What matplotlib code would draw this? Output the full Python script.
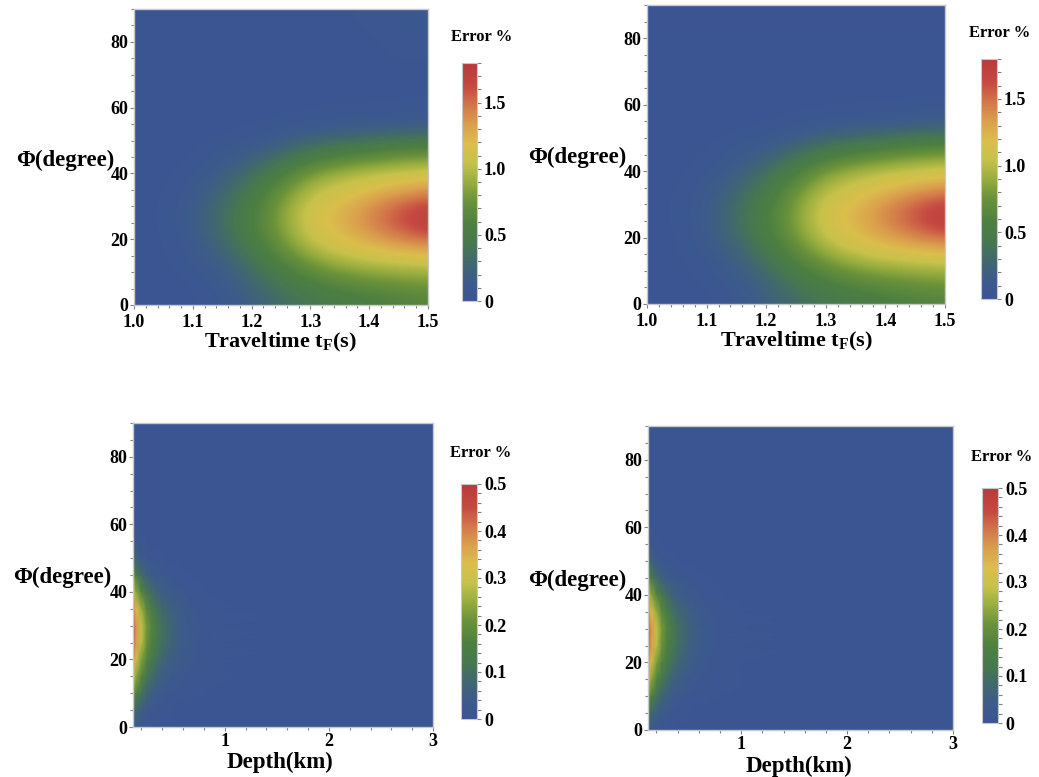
import numpy as np
import matplotlib
matplotlib.use("Agg")
import matplotlib.pyplot as plt
from matplotlib.colors import LinearSegmentedColormap
from matplotlib.ticker import MultipleLocator, FixedLocator, FixedFormatter

plt.rcParams['font.family'] = ['Liberation Serif', 'DejaVu Serif']
plt.rcParams['font.weight'] = 'bold'
plt.rcParams['mathtext.fontset'] = 'custom'
plt.rcParams['mathtext.rm'] = 'Liberation Serif:bold'
plt.rcParams['mathtext.it'] = 'Liberation Serif:bold'
plt.rcParams['mathtext.bf'] = 'Liberation Serif:bold'

# ---------------- data ----------------
tf_values = [1.00, 1.05, 1.10, 1.15, 1.20, 1.25, 1.30, 1.35, 1.40, 1.45, 1.50]
phi_values = [0, 5, 10, 15, 20, 25, 30, 35, 40, 45, 50, 55, 60, 65, 70, 75, 80, 85, 90]

# error % vs traveltime (columns) and phi (rows 0..60)
err_tf_core = [
    [0, 0.00, 0.01, 0.06, 0.18, 0.32, 0.42, 0.48, 0.53, 0.58, 0.62],
    [0, 0.01, 0.02, 0.10, 0.24, 0.40, 0.52, 0.60, 0.66, 0.70, 0.74],
    [0, 0.01, 0.04, 0.15, 0.32, 0.52, 0.68, 0.80, 0.86, 0.90, 0.93],
    [0, 0.02, 0.08, 0.22, 0.42, 0.66, 0.88, 1.02, 1.10, 1.15, 1.18],
    [0, 0.02, 0.12, 0.30, 0.52, 0.78, 1.05, 1.18, 1.30, 1.42, 1.52],
    [0, 0.03, 0.14, 0.34, 0.56, 0.84, 1.12, 1.25, 1.42, 1.60, 1.76],
    [0, 0.03, 0.13, 0.32, 0.54, 0.82, 1.10, 1.22, 1.38, 1.55, 1.68],
    [0, 0.02, 0.10, 0.26, 0.46, 0.72, 0.98, 1.10, 1.20, 1.30, 1.38],
    [0, 0.01, 0.06, 0.18, 0.34, 0.56, 0.80, 0.92, 1.00, 1.05, 1.10],
    [0, 0.01, 0.03, 0.10, 0.20, 0.36, 0.52, 0.62, 0.70, 0.76, 0.80],
    [0, 0.00, 0.01, 0.04, 0.08, 0.16, 0.26, 0.32, 0.38, 0.42, 0.45],
    [0, 0.00, 0.00, 0.01, 0.02, 0.05, 0.08, 0.10, 0.12, 0.14, 0.16],
    [0, 0.00, 0.00, 0.00, 0.00, 0.01, 0.02, 0.03, 0.03, 0.04, 0.05],
]
# rows phi 65..90
err_tf_tail_left = [
    [0, 0, 0, 0, 0, 0, 0.01, 0.01, 0.01, 0.02, 0.02],
    [0, 0, 0, 0, 0, 0, 0.00, 0.01, 0.01, 0.02, 0.02],
    [0, 0, 0, 0, 0, 0, 0.00, 0.01, 0.02, 0.03, 0.03],
    [0, 0, 0, 0, 0, 0, 0.01, 0.01, 0.02, 0.04, 0.05],
    [0, 0, 0, 0, 0, 0, 0.01, 0.02, 0.03, 0.05, 0.07],
    [0, 0, 0, 0, 0, 0, 0.01, 0.02, 0.04, 0.06, 0.08],
]
err_tf_tail_right = [
    [0, 0, 0, 0, 0, 0, 0.00, 0.00, 0.01, 0.01, 0.01],
    [0, 0, 0, 0, 0, 0, 0.00, 0.00, 0.00, 0.00, 0.01],
    [0, 0, 0, 0, 0, 0, 0.00, 0.00, 0.00, 0.00, 0.00],
    [0, 0, 0, 0, 0, 0, 0.00, 0.00, 0.00, 0.00, 0.00],
    [0, 0, 0, 0, 0, 0, 0.00, 0.00, 0.00, 0.00, 0.00],
    [0, 0, 0, 0, 0, 0, 0.00, 0.00, 0.00, 0.00, 0.00],
]

depth_values = [0.12, 0.15, 0.2, 0.25, 0.3, 0.35, 0.4, 0.5, 0.6, 0.7, 0.8, 1.0, 1.5, 2.0, 3.0]
# error % vs depth (columns) and phi (rows 0..90)
err_depth = [
    [0.03, 0.02, 0.01, 0.01, 0.005, 0, 0, 0, 0, 0, 0, 0, 0, 0, 0],
    [0.12, 0.08, 0.05, 0.03, 0.02, 0.015, 0.01, 0.005, 0.003, 0, 0, 0, 0, 0, 0],
    [0.22, 0.16, 0.11, 0.07, 0.05, 0.035, 0.025, 0.015, 0.01, 0.006, 0.004, 0, 0, 0, 0],
    [0.31, 0.24, 0.17, 0.12, 0.09, 0.065, 0.05, 0.03, 0.02, 0.012, 0.008, 0.004, 0, 0, 0],
    [0.39, 0.31, 0.23, 0.17, 0.13, 0.10, 0.075, 0.048, 0.03, 0.019, 0.012, 0.006, 0.002, 0, 0],
    [0.46, 0.37, 0.28, 0.21, 0.16, 0.125, 0.095, 0.062, 0.038, 0.024, 0.014, 0.008, 0.003, 0.001, 0],
    [0.48, 0.38, 0.29, 0.22, 0.17, 0.13, 0.10, 0.065, 0.04, 0.025, 0.015, 0.008, 0.003, 0.001, 0],
    [0.42, 0.33, 0.25, 0.18, 0.14, 0.105, 0.08, 0.052, 0.032, 0.02, 0.012, 0.006, 0.002, 0, 0],
    [0.32, 0.24, 0.17, 0.12, 0.09, 0.065, 0.05, 0.03, 0.018, 0.011, 0.007, 0.003, 0, 0, 0],
    [0.20, 0.14, 0.09, 0.06, 0.04, 0.03, 0.02, 0.012, 0.007, 0.004, 0.002, 0, 0, 0, 0],
    [0.09, 0.06, 0.03, 0.02, 0.01, 0.01, 0.005, 0.003, 0.002, 0, 0, 0, 0, 0, 0],
    [0.03, 0.02, 0.01, 0.005, 0, 0, 0, 0, 0, 0, 0, 0, 0, 0, 0],
    [0.01, 0, 0, 0, 0, 0, 0, 0, 0, 0, 0, 0, 0, 0, 0],
    [0] * 15, [0] * 15, [0] * 15, [0] * 15, [0] * 15, [0] * 15,
]

tf_cbar_max = 1.8
depth_cbar_max = 0.5
tf_cbar_ticks = [0, 0.5, 1.0, 1.5]
tf_cbar_labels = ['0', '0.5', '1.0', '1.5']
depth_cbar_ticks = [0, 0.1, 0.2, 0.3, 0.4, 0.5]
depth_cbar_labels = ['0', '0.1', '0.2', '0.3', '0.4', '0.5']

# ---------------- style ----------------
cmap = LinearSegmentedColormap.from_list('err', [
    (0.00, '#3b5593'), (0.08, '#3d5b8a'), (0.16, '#41686e'), (0.24, '#47784f'),
    (0.32, '#4d7f41'), (0.42, '#6a923a'), (0.50, '#98ad3e'), (0.58, '#c6c24a'),
    (0.66, '#dbbe4c'), (0.74, '#daa04c'), (0.82, '#d3784a'), (0.90, '#c64a42'),
    (1.00, '#b8393a')])

W, H = 1039, 777
fig = plt.figure(figsize=(W / 100, H / 100), dpi=100)


def rect(l, r, t, b):
    return [l / W, 1 - b / H, (r - l) / W, (b - t) / H]


frame_col = '#c8c8c8'
tick_col = '#808080'


def style_axes(ax):
    for s in ax.spines.values():
        s.set_color(frame_col)
        s.set_linewidth(1.0)
    ax.tick_params(which='both', direction='out', color=tick_col, length=3, width=0.8,
                   labelsize=13, pad=1)
    ax.tick_params(which='minor', length=2.5)
    ax.tick_params(axis='x', which='major', pad=3.5)
    ax.set_ylim(0, 90)
    ax.yaxis.set_major_locator(MultipleLocator(20))
    ax.yaxis.set_minor_locator(MultipleLocator(5))


def style_cbar(cb, ticks, labels, minor_step, vmax):
    cb.outline.set_edgecolor(frame_col)
    cb.ax.yaxis.set_major_locator(FixedLocator(ticks))
    cb.ax.yaxis.set_major_formatter(FixedFormatter(labels))
    cb.ax.yaxis.set_minor_locator(MultipleLocator(minor_step))
    cb.ax.tick_params(which='both', direction='out', color=tick_col, length=3, width=0.8,
                      labelsize=13, pad=2)


def phi_label(x, y):
    fig.text(x / W, 1 - y / H, 'Φ(degree)', fontsize=16.5, fontweight='bold',
             ha='center', va='center')


def err_title(x, y):
    fig.text(x / W, 1 - y / H, 'Error %', fontsize=12, fontweight='bold',
             ha='center', va='center')


tf = np.array(tf_values)
phi = np.array(phi_values)
dtf = tf[1] - tf[0]
dphi = phi[1] - phi[0]
extent = [tf[0] - dtf / 2, tf[-1] + dtf / 2, phi[0] - dphi / 2, phi[-1] + dphi / 2]

top_panels = [
    (rect(134, 428, 9, 305), rect(462, 477, 63, 301), err_tf_tail_left, (65, 160), (482, 37), (280, 331)),
    (rect(647, 945, 5, 304), rect(981, 997, 59, 299), err_tf_tail_right, (577, 157), (1000, 33), (796, 330)),
]
for axr, cr, tail, (lx, ly), (ex, ey), (xlx, xly) in top_panels:
    ax = fig.add_axes(axr)
    Z = np.array(err_tf_core + tail)
    im = ax.imshow(Z, origin='lower', extent=extent, aspect='auto', cmap=cmap,
                   vmin=0, vmax=tf_cbar_max, interpolation='bicubic')
    style_axes(ax)
    ax.set_xlim(1.0, 1.5)
    ax.xaxis.set_major_locator(MultipleLocator(0.1))
    ax.xaxis.set_minor_locator(MultipleLocator(0.02))
    ax.xaxis.set_major_formatter(matplotlib.ticker.FormatStrFormatter('%.1f'))
    cax = fig.add_axes(cr)
    cb = fig.colorbar(im, cax=cax)
    style_cbar(cb, tf_cbar_ticks, tf_cbar_labels, 0.1, tf_cbar_max)
    phi_label(lx, ly)
    err_title(ex, ey)
    fig.text(xlx / W, 1 - xly / H, r'Traveltime t$_{\rm F}$(s)', fontsize=16,
             fontweight='bold', ha='center', va='top')

bottom_panels = [
    (rect(133, 433, 423, 727), rect(461, 477, 484, 719), (62, 577), (481, 453), (280, 762)),
    (rect(648, 953, 426, 730), rect(982, 998, 488, 723), (577, 580), (1002, 457), (799, 766)),
]
D, P = np.meshgrid(np.array(depth_values), phi)
for axr, cr, (lx, ly), (ex, ey), (xlx, xly) in bottom_panels:
    ax = fig.add_axes(axr)
    Z = np.array(err_depth, dtype=float)
    im = ax.pcolormesh(D, P, Z, shading='gouraud', cmap=cmap, vmin=0, vmax=depth_cbar_max,
                       rasterized=True)
    style_axes(ax)
    ax.set_xlim(depth_values[0], 3.0)
    ax.xaxis.set_major_locator(FixedLocator([1, 2, 3]))
    ax.xaxis.set_minor_locator(MultipleLocator(0.2))
    ax.tick_params(axis='x', which='major', pad=1.5)
    cax = fig.add_axes(cr)
    cb = fig.colorbar(im, cax=cax)
    style_cbar(cb, depth_cbar_ticks, depth_cbar_labels, 0.02, depth_cbar_max)
    phi_label(lx, ly)
    err_title(ex, ey)
    fig.text(xlx / W, 1 - xly / H, 'Depth(km)', fontsize=16.5, fontweight='bold',
             ha='center', va='center')

fig.savefig('out.png', dpi=100)
